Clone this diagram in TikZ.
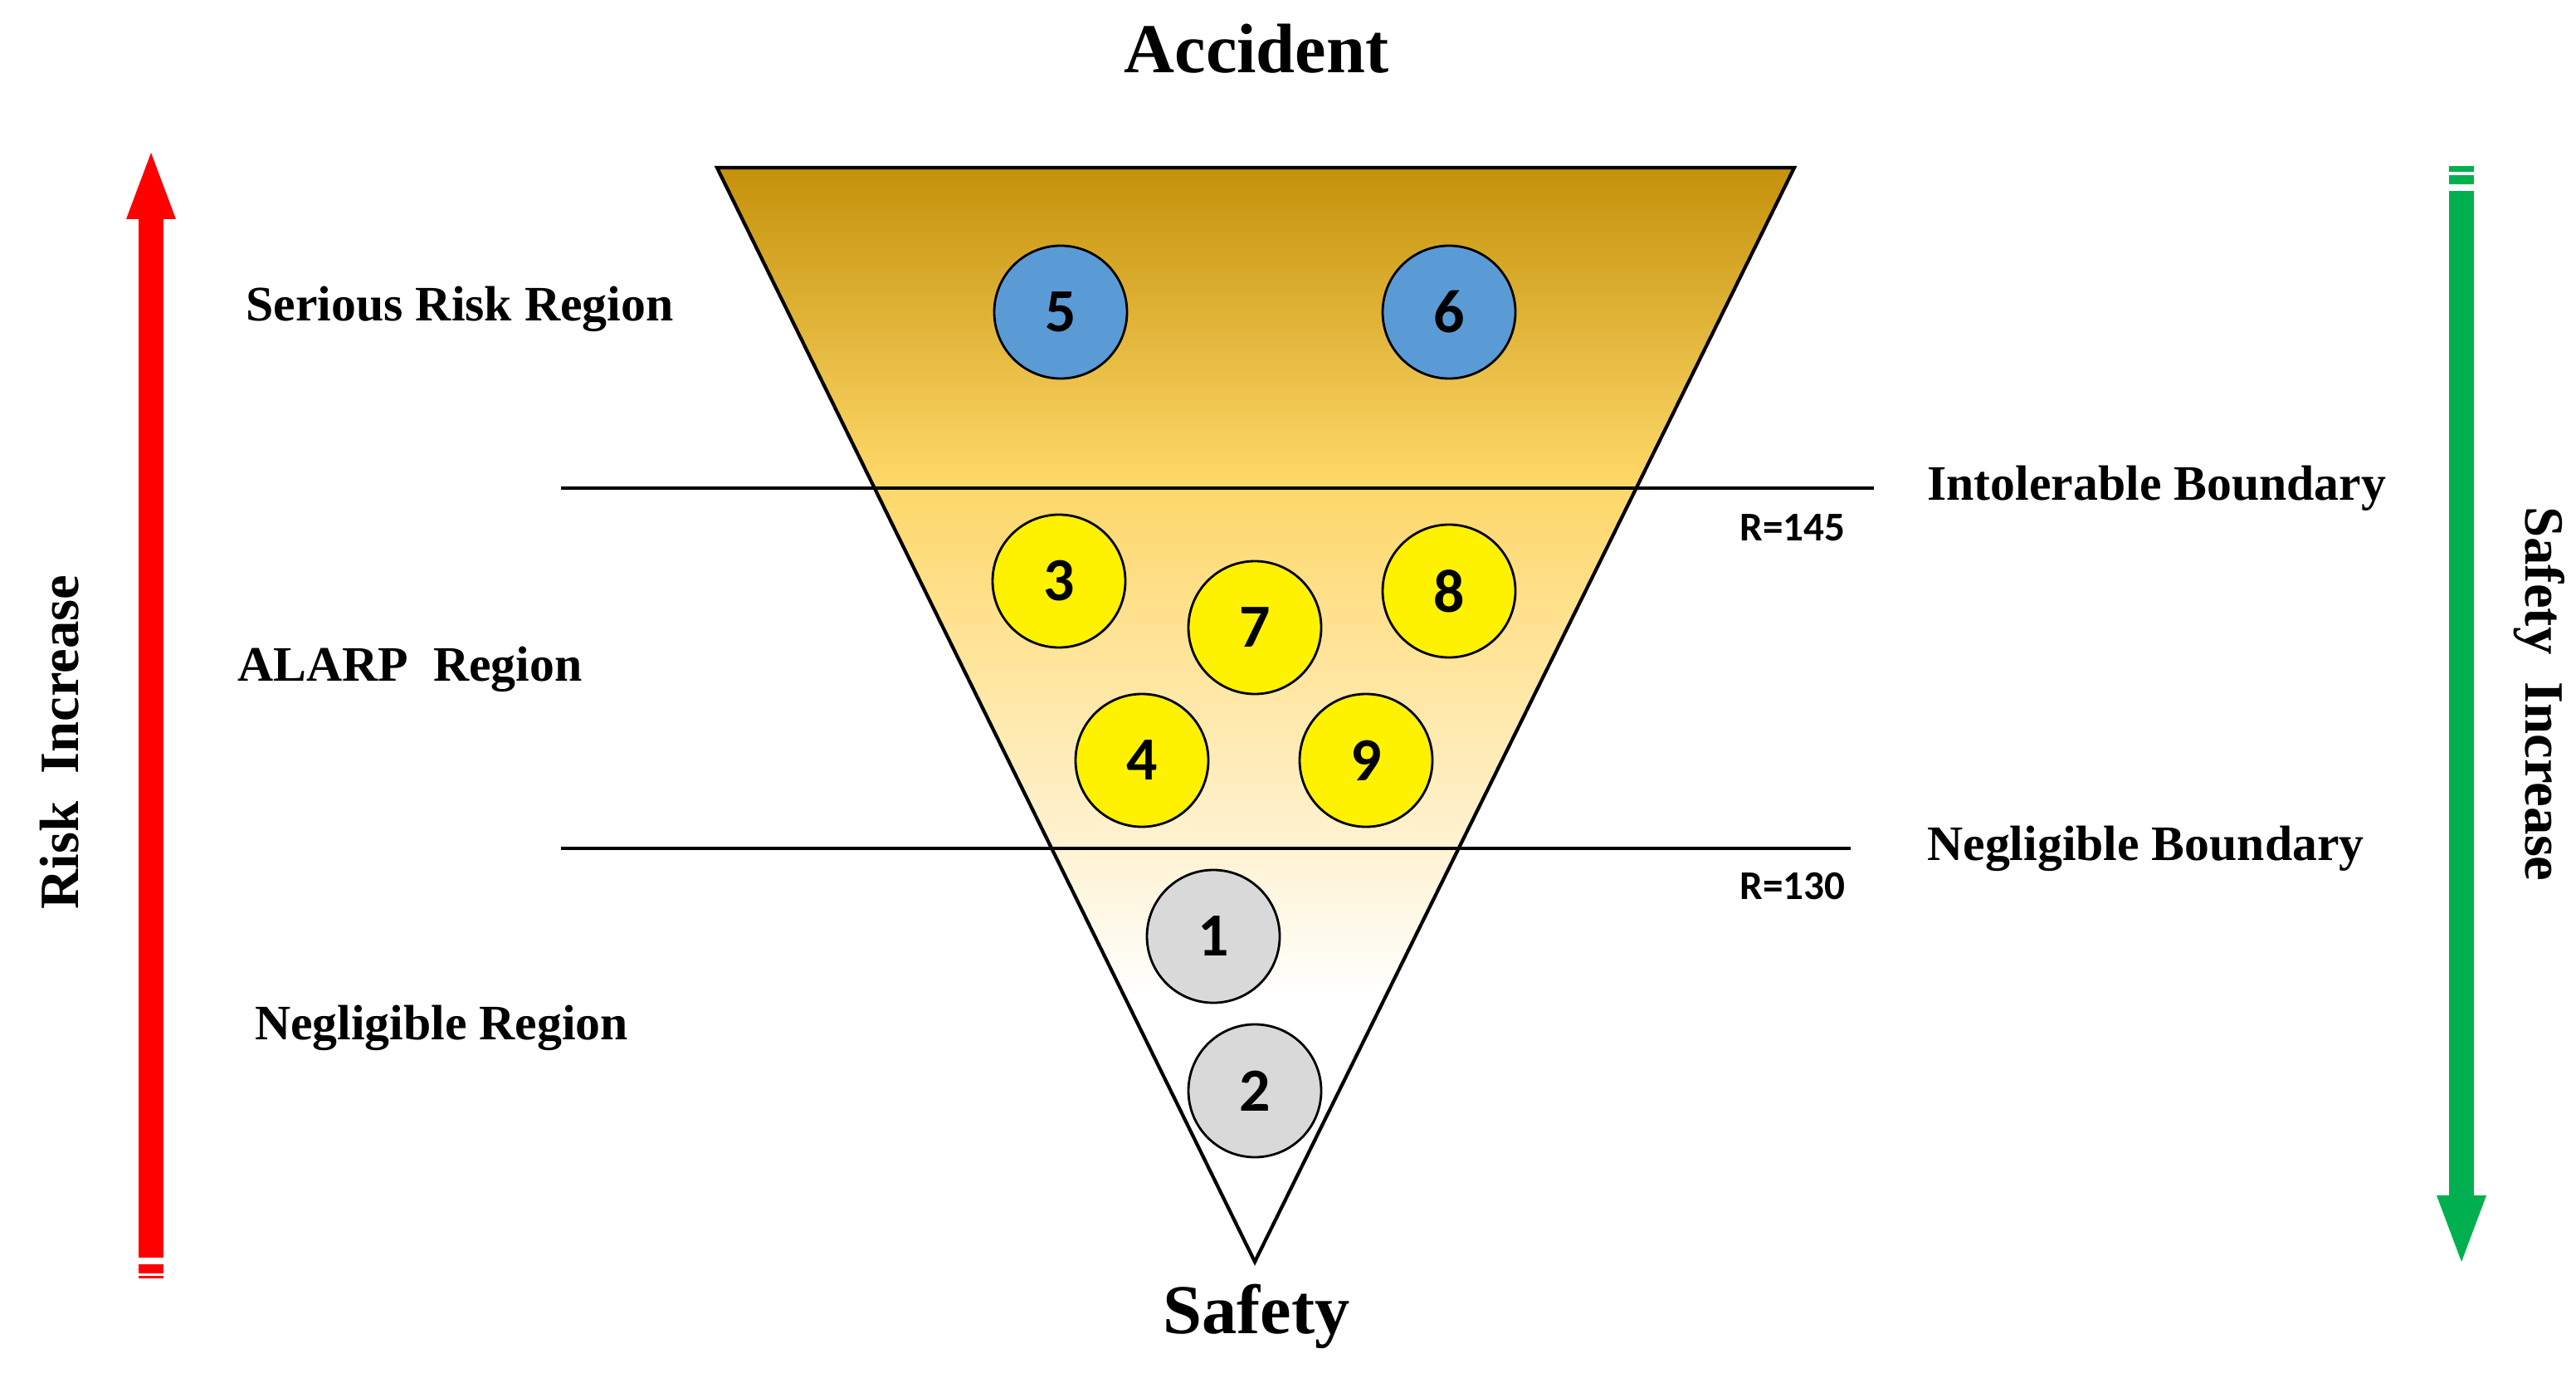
\documentclass[tikz,border=0pt]{standalone}
\usepackage{fontspec}
\setmainfont{Liberation Serif}
\newfontfamily\calib{Carlito}
\pgfdeclareverticalshading{funnelshade}{100bp}{
   rgb(0bp)=(1,1,1); rgb(37bp)=(1,1,1); rgb(47bp)=(1,0.93,0.75);
   rgb(55bp)=(1,0.88,0.55); rgb(61bp)=(0.99,0.84,0.40); rgb(75bp)=(0.77,0.57,0.04);
   rgb(100bp)=(0.77,0.57,0.04)}
\begin{document}
\begin{tikzpicture}[
   region/.style={font=\fontsize{17}{20}\selectfont\bfseries},
   bound/.style={font=\fontsize{17}{20}\selectfont\bfseries, anchor=west},
   rlabel/.style={font=\calib\fontsize{14}{16}\selectfont\bfseries},
   risk/.style={circle, draw=black, line width=0.8pt, minimum size=1.6cm, inner sep=0pt, font=\calib\fontsize{21}{24}\selectfont\bfseries},
   alarp/.style={risk, fill=yellow},
   low/.style={risk, fill=gray!30}
   ]
   \definecolor{seriousblue}{RGB}{91,155,213}
   \definecolor{arrowgreen}{RGB}{0,176,80}
   \useasboundingbox (0,0) rectangle (31.04,16.59);

   % funnel
   \coordinate (TL) at (8.64,14.57);
   \coordinate (TR) at (21.62,14.57);
   \coordinate (B) at (15.12,1.39);
   \shade[shading=funnelshade] (TL) -- (TR) -- (B) -- cycle;
   \draw[line width=1.2pt, line join=miter] (TL) -- (TR) -- (B) -- cycle;

   % boundaries
   \coordinate (I1) at (6.76,10.71);
   \coordinate (I2) at (22.58,10.71);
   \coordinate (N1) at (6.76,6.37);
   \coordinate (N2) at (22.30,6.37);
   \draw[line width=1pt] (I1) -- (I2);
   \draw[line width=1pt] (N1) -- (N2);

   \node (Accident) at (15.14,16.0) [font=\fontsize{24}{28}\selectfont\bfseries] {Accident};
   \node (Safety) at (15.14,0.73) [font=\fontsize{24}{28}\selectfont\bfseries] {Safety};

   \node (Serious) at (5.54,12.87) [region] {Serious Risk Region};
   \node (ALARP) at (4.94,8.53) [region] {ALARP~~Region};
   \node (Negligible) at (5.32,4.21) [region] {Negligible Region};

   \node (Intolerable) at (23.1,10.71) [bound] {Intolerable Boundary};
   \node (NegBound) at (23.1,6.37) [bound] {Negligible Boundary};
   \node (R145) at (21.6,10.23) [rlabel] {R=145};
   \node (R130) at (21.6,5.91) [rlabel] {R=130};

   \node (C5) at (12.78,12.83) [risk, fill=seriousblue] {5};
   \node (C6) at (17.46,12.83) [risk, fill=seriousblue] {6};
   \node (C3) at (12.76,9.59) [alarp] {3};
   \node (C7) at (15.12,9.03) [alarp] {7};
   \node (C8) at (17.46,9.47) [alarp] {8};
   \node (C4) at (13.76,7.43) [alarp] {4};
   \node (C9) at (16.46,7.43) [alarp] {9};
   \node (C1) at (14.62,5.31) [low] {1};
   \node (C2) at (15.12,3.45) [low] {2};

   % risk arrow
   \fill[red] (1.67,1.44) rectangle (1.97,13.95);
   \fill[red] (1.67,1.25) rectangle (1.97,1.36);
   \fill[red] (1.67,1.19) rectangle (1.97,1.22);
   \fill[red] (1.52,13.95) -- (1.82,14.75) -- (2.12,13.95) -- cycle;
   \node (RiskUp) at (0.72,7.65) [rotate=90, font=\fontsize{19}{22}\selectfont\bfseries] {Risk~~Increase};

   % safety arrow
   \fill[arrowgreen] (29.51,14.29) rectangle (29.81,2.19);
   \fill[arrowgreen] (29.51,14.37) rectangle (29.81,14.48);
   \fill[arrowgreen] (29.51,14.52) rectangle (29.81,14.59);
   \fill[arrowgreen] (29.36,2.19) -- (29.66,1.39) -- (29.96,2.19) -- cycle;
   \node (SafetyUp) at (30.6,8.23) [rotate=-90, font=\fontsize{19}{22}\selectfont\bfseries] {Safety~~Increase};
\end{tikzpicture}
\end{document}
